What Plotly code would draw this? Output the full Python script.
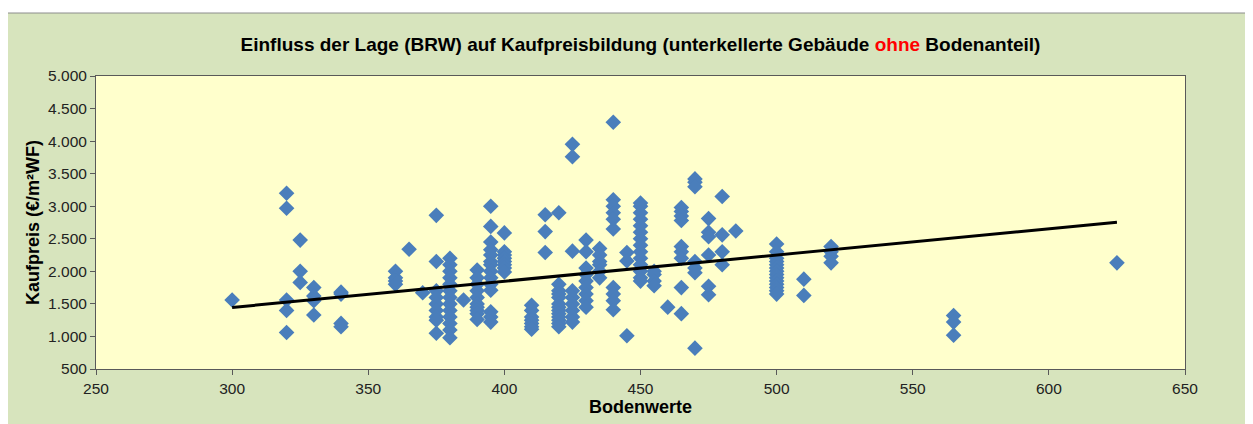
import plotly.graph_objects as go

bodenwert = (
    [300]
    + [320] * 5
    + [325] * 3
    + [330] * 4
    + [340] * 4
    + [360] * 4
    + [365]
    + [370]
    + [375] * 9
    + [380] * 13
    + [385]
    + [390] * 10
    + [395] * 14
    + [400] * 8
    + [410] * 7
    + [415] * 3
    + [420] * 13
    + [425] * 9
    + [430] * 9
    + [435] * 6
    + [440] * 10
    + [445] * 3
    + [450] * 14
    + [455] * 4
    + [460]
    + [465] * 9
    + [470] * 7
    + [475] * 6
    + [480] * 4
    + [485]
    + [500] * 14
    + [510] * 2
    + [520] * 4
    + [565] * 3
    + [625]
)
kaufpreis = (
    [1560]
    + [3200, 2970, 1560, 1400, 1060]
    + [2480, 2000, 1830]
    + [1750, 1620, 1550, 1330]
    + [1680, 1650, 1200, 1150]
    + [2000, 1900, 1850, 1800]
    + [2340]
    + [1670]
    + [2860, 2150, 1700, 1600, 1500, 1400, 1300, 1250, 1050]
    + [2200, 2100, 2000, 1900, 1800, 1700, 1600, 1500, 1400, 1300, 1200, 1100, 980]
    + [1560]
    + [2020, 1900, 1800, 1700, 1600, 1500, 1450, 1400, 1350, 1260]
    + [3000, 2690, 2450, 2330, 2250, 2150, 2100, 2000, 1900, 1800, 1710, 1380, 1300, 1220]
    + [2590, 2300, 2250, 2200, 2150, 2100, 2050, 1990]
    + [1480, 1400, 1300, 1250, 1200, 1150, 1110]
    + [2870, 2610, 2290]
    + [2900, 1800, 1700, 1650, 1600, 1500, 1450, 1400, 1350, 1300, 1250, 1200, 1150]
    + [3950, 3760, 2310, 1700, 1600, 1500, 1400, 1300, 1220]
    + [2480, 2300, 2050, 1950, 1850, 1750, 1650, 1550, 1450]
    + [2350, 2250, 2150, 2100, 2000, 1900]
    + [4290, 3100, 3000, 2900, 2800, 2650, 1750, 1650, 1550, 1410]
    + [2290, 2160, 1010]
    + [3050, 3000, 2900, 2800, 2700, 2600, 2500, 2400, 2300, 2200, 2100, 2000, 1900, 1850]
    + [2000, 1950, 1850, 1780]
    + [1450]
    + [2980, 2920, 2850, 2780, 2380, 2300, 2200, 1750, 1350]
    + [3420, 3370, 3300, 2150, 2050, 1980, 820]
    + [2810, 2600, 2530, 2250, 1770, 1640]
    + [3150, 2560, 2300, 2100]
    + [2620]
    + [2420, 2300, 2200, 2150, 2100, 2050, 2000, 1950, 1900, 1850, 1800, 1750, 1700, 1650]
    + [1880, 1630]
    + [2380, 2300, 2230, 2130]
    + [1320, 1220, 1020]
    + [2130]
)

trend_x = [300, 625]
trend_y = [1445, 2755]

x_ticks = [250, 300, 350, 400, 450, 500, 550, 600, 650]
y_ticks = [500, 1000, 1500, 2000, 2500, 3000, 3500, 4000, 4500, 5000]

BLUE = "#4A7EBB"
AXIS = "#595959"
FONT = "Liberation Sans, Arial, sans-serif"

fig = go.Figure()
fig.add_trace(
    go.Scatter(
        x=bodenwert,
        y=kaufpreis,
        mode="markers",
        marker=dict(symbol="diamond", size=12, color=BLUE, line=dict(width=0)),
        showlegend=False,
    )
)
fig.add_trace(
    go.Scatter(
        x=trend_x,
        y=trend_y,
        mode="lines",
        line=dict(color="black", width=3),
        showlegend=False,
    )
)

# green chart area with thin frame, yellow plot area on top of it
fig.add_shape(
    type="rect",
    xref="paper",
    yref="paper",
    x0=-0.082,
    x1=1.0565,
    y0=-0.3,
    y1=1.215,
    fillcolor="#D7E4BD",
    line=dict(color="#8C8C8C", width=1),
    layer="below",
)
fig.add_shape(
    type="rect",
    xref="paper",
    yref="paper",
    x0=0,
    x1=1,
    y0=0,
    y1=1,
    fillcolor="#FFFFCC",
    line=dict(width=0),
    layer="below",
)

# page body has an 8px margin, so the figure is 8px smaller than the window
fig.update_layout(
    width=1245,
    height=416,
    margin=dict(l=88, r=68, t=68, b=55),
    paper_bgcolor="white",
    plot_bgcolor="rgba(0,0,0,0)",
    separators=",.",
    font=dict(family=FONT, size=15, color="#222222"),
    title=dict(
        text="<b>Einfluss der Lage (BRW) auf Kaufpreisbildung (unterkellerte Gebäude "
        "<span style='color:#FF0000'>ohne</span> Bodenanteil)</b>",
        x=0.5,
        xref="paper",
        y=0.913,
        yref="container",
        xanchor="center",
        yanchor="middle",
        font=dict(family=FONT, size=19, color="black"),
    ),
    xaxis=dict(
        range=[250, 650],
        tickvals=x_ticks,
        ticks="outside",
        ticklen=5,
        tickcolor=AXIS,
        showline=True,
        linecolor=AXIS,
        linewidth=1,
        mirror=True,
        showgrid=False,
        zeroline=False,
        automargin=False,
        tickfont=dict(size=15.5),
        title=dict(text="<b>Bodenwerte</b>", font=dict(size=18, color="black"), standoff=4),
    ),
    yaxis=dict(
        range=[500, 5000],
        tickvals=y_ticks,
        tickformat=",d",
        ticks="outside",
        ticklen=5,
        tickcolor=AXIS,
        showline=True,
        linecolor=AXIS,
        linewidth=1,
        mirror=True,
        showgrid=False,
        zeroline=False,
        automargin=False,
        tickfont=dict(size=15.5),
        title=dict(text="<b>Kaufpreis (€/m²WF)</b>", font=dict(size=18, color="black"), standoff=3),
    ),
)

fig.write_html("out.html")
